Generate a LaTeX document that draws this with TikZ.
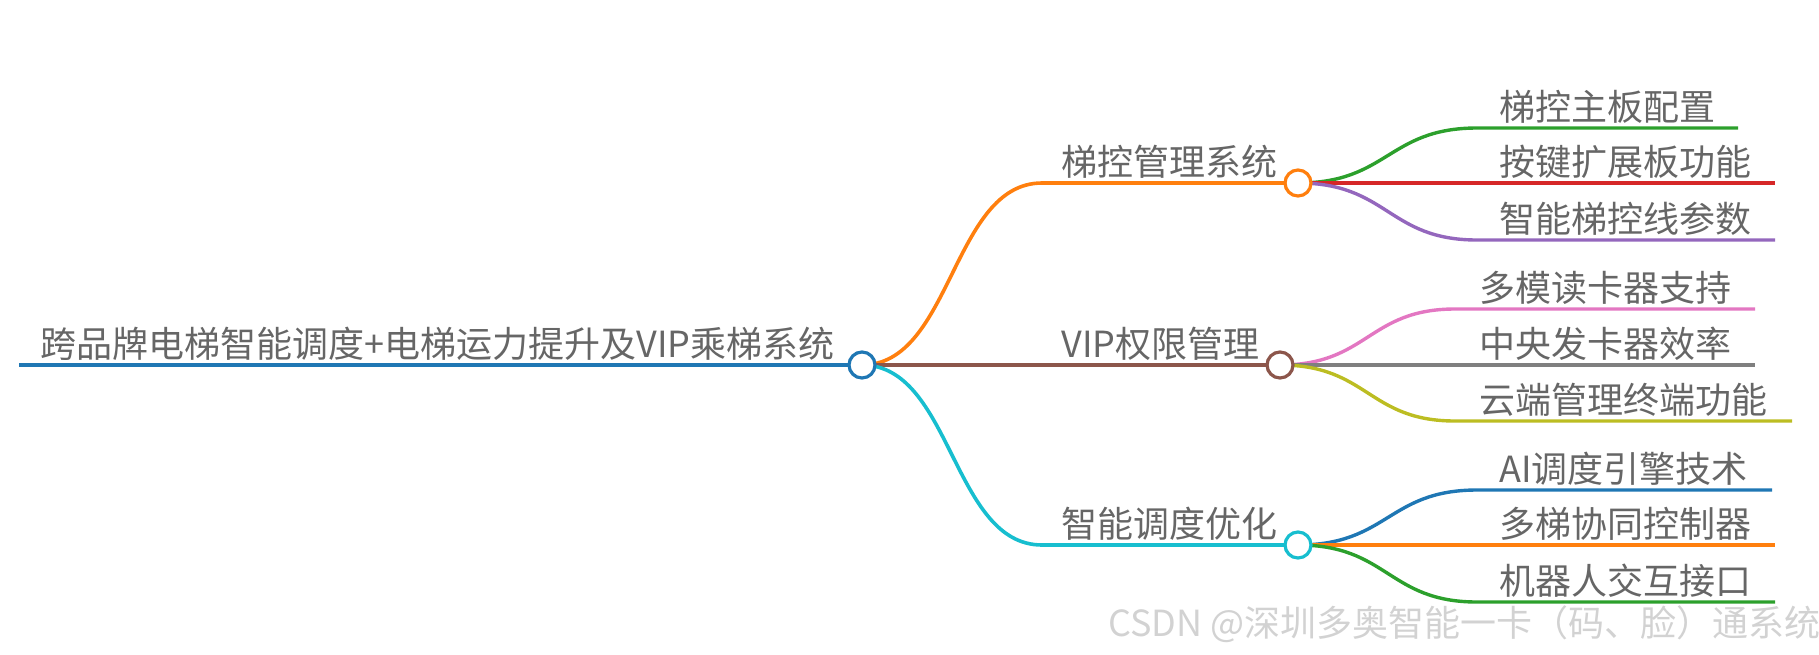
\documentclass[tikz,border=0pt]{standalone}
\usepackage{fontspec}
\usepackage{tikz}
\newfontfamily\cjk{Noto Sans CJK SC}

\definecolor{tabblue}{HTML}{1F77B4}
\definecolor{taborange}{HTML}{FF7F0E}
\definecolor{tabgreen}{HTML}{2CA02C}
\definecolor{tabred}{HTML}{D62728}
\definecolor{tabpurple}{HTML}{9467BD}
\definecolor{tabbrown}{HTML}{8C564B}
\definecolor{tabpink}{HTML}{E377C2}
\definecolor{tabgray}{HTML}{7F7F7F}
\definecolor{tabolive}{HTML}{BCBD22}
\definecolor{tabcyan}{HTML}{17BECF}
\definecolor{labelgray}{RGB}{102,102,102}

\begin{document}
\begin{tikzpicture}[x=0.5pt,y=-0.5pt,
  topic/.style={font=\cjk\fontsize{18}{20}\selectfont,text=labelgray,anchor=base west,inner sep=0pt},
  hub/.style={circle,draw,fill=white,line width=1.6pt,minimum size=13pt,inner sep=0pt},
  mainedge/.style={line width=1.8pt},
  leafedge/.style={line width=1.7pt}]

\useasboundingbox (0,0) rectangle (1819,654);

% Root
\coordinate (rootstart) at (19,365);
\coordinate (root) at (862,365);
\draw[tabblue,line width=2.2pt] (rootstart) -- (root);
\node[topic] (roottext) at (40,357) {跨品牌电梯智能调度+电梯运力提升及VIP乘梯系统};

% Level 1 positions
\coordinate (ctl) at (1298,183);
\coordinate (vip) at (1280,365);
\coordinate (sched) at (1298,545);
\coordinate (ctlknee) at (1042,183);
\coordinate (schedknee) at (1042,545);

% Root -> level 1
\draw[taborange,mainedge] (root) .. controls (952,365) and (952,183) .. (ctlknee) -- (ctl);
\draw[tabbrown,mainedge] (root) -- (vip);
\draw[tabcyan,mainedge] (root) .. controls (952,365) and (952,545) .. (schedknee) -- (sched);

\node[topic] (ctltext) at (1061,175) {梯控管理系统};
\node[topic] (viptext) at (1061,357) {VIP权限管理};
\node[topic] (schedtext) at (1061,537) {智能调度优化};

% Elevator control leaves
\coordinate (boardknee) at (1477,128);  \coordinate (boardend) at (1738,128);
\coordinate (keyknee) at (1477,183);    \coordinate (keyend) at (1775,183);
\coordinate (wireknee) at (1477,240);   \coordinate (wireend) at (1775,240);
\draw[tabgreen,leafedge] (ctl) .. controls (1388,183) and (1388,128) .. (boardknee) -- (boardend);
\draw[tabred,leafedge] (ctl) -- (keyend);
\draw[tabpurple,leafedge] (ctl) .. controls (1388,183) and (1388,240) .. (wireknee) -- (wireend);
\node[topic] (board) at (1499,120) {梯控主板配置};
\node[topic] (key) at (1499,175) {按键扩展板功能};
\node[topic] (wire) at (1499,232) {智能梯控线参数};

% VIP leaves
\coordinate (readerknee) at (1455,309); \coordinate (readerend) at (1755,309);
\coordinate (issueknee) at (1455,365);  \coordinate (issueend) at (1755,365);
\coordinate (cloudknee) at (1455,421);  \coordinate (cloudend) at (1792,421);
\draw[tabpink,leafedge] (vip) .. controls (1368,365) and (1368,309) .. (readerknee) -- (readerend);
\draw[tabgray,leafedge] (vip) -- (issueend);
\draw[tabolive,leafedge] (vip) .. controls (1368,365) and (1368,421) .. (cloudknee) -- (cloudend);
\node[topic] (reader) at (1479,301) {多模读卡器支持};
\node[topic] (issue) at (1479,357) {中央发卡器效率};
\node[topic] (cloud) at (1479,413) {云端管理终端功能};

% Scheduling leaves
\coordinate (aiknee) at (1477,490);     \coordinate (aiend) at (1772,490);
\coordinate (groupknee) at (1477,545);  \coordinate (groupend) at (1775,545);
\coordinate (robotknee) at (1477,602);  \coordinate (robotend) at (1775,602);
\draw[tabblue,leafedge] (sched) .. controls (1388,545) and (1388,490) .. (aiknee) -- (aiend);
\draw[taborange,leafedge] (sched) -- (groupend);
\draw[tabgreen,leafedge] (sched) .. controls (1388,545) and (1388,602) .. (robotknee) -- (robotend);
\node[topic] (ai) at (1499,482) {AI调度引擎技术};
\node[topic] (group) at (1499,537) {多梯协同控制器};
\node[topic] (robot) at (1499,594) {机器人交互接口};

% Hubs on top
\node[hub,draw=tabblue] (roothub) at (root) {};
\node[hub,draw=taborange] (ctlhub) at (ctl) {};
\node[hub,draw=tabbrown] (viphub) at (vip) {};
\node[hub,draw=tabcyan] (schedhub) at (sched) {};

% Watermark
\node[topic,text=gray!35] (mark) at (1108,636) {CSDN @深圳多奥智能一卡（码、脸）通系统};

\end{tikzpicture}
\end{document}
